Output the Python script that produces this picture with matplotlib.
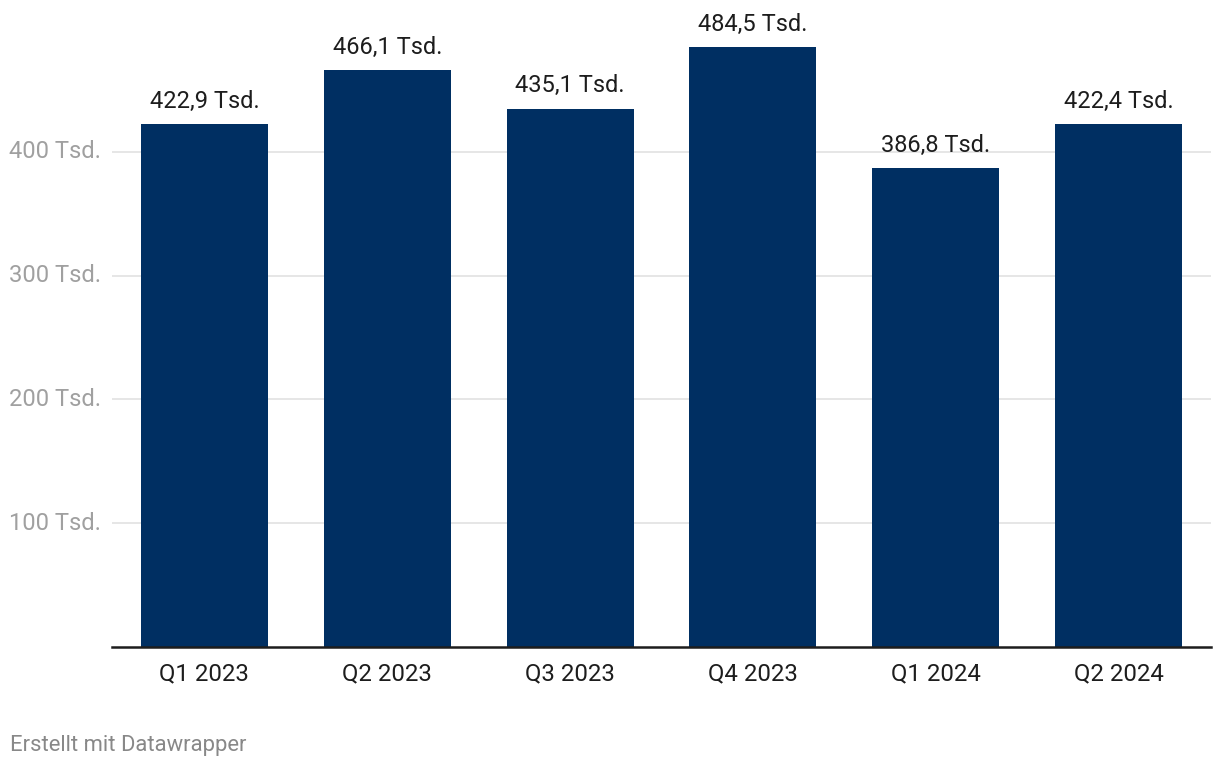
import matplotlib
matplotlib.use("Agg")
import matplotlib.pyplot as plt

categories = ["Q1 2023", "Q2 2023", "Q3 2023", "Q4 2023", "Q1 2024", "Q2 2024"]
values = [422.9, 466.1, 435.1, 484.5, 386.8, 422.4]
yticks = [100, 200, 300, 400]
ytick_labels = ["100 Tsd.", "200 Tsd.", "300 Tsd.", "400 Tsd."]

plt.rcParams['font.family'] = ['Roboto', 'DejaVu Sans']

W, H = 1220, 768
fig = plt.figure(figsize=(W / 100, H / 100), dpi=100)
ax = fig.add_axes([112 / W, (H - 647) / H, (1211 - 112) / W, (647 - 10) / H])

x = list(range(len(categories)))
bars = ax.bar(x, values, width=0.695, color="#002f62", zorder=3)

for xi, v in zip(x, values):
    ax.annotate(f"{v:.1f}".replace(".", ",") + " Tsd.", (xi, v),
                xytext=(0, 8), textcoords="offset points",
                ha="center", va="bottom", fontsize=17, color="#1d1d1d")

ax.set_xlim(-0.505, 5.505)
ax.set_ylim(0, 514.7)
ax.set_yticks(yticks)
ax.set_yticklabels(ytick_labels)
ax.set_xticks(x)
ax.set_xticklabels(categories)

ax.grid(axis="y", color="#e2e2e2", linewidth=1.2, zorder=0)
for s in ["top", "right", "left"]:
    ax.spines[s].set_visible(False)
ax.spines["bottom"].set_color("#1d1d1d")
ax.spines["bottom"].set_linewidth(1.8)
ax.spines["bottom"].set_zorder(4)

ax.tick_params(axis="y", length=0, pad=8, labelsize=17.1, labelcolor="#a0a0a0")
ax.tick_params(axis="x", length=0, pad=11, labelsize=17.3, labelcolor="#1d1d1d")
for lab in ax.get_yticklabels():
    lab.set_verticalalignment("center")

fig.text(10 / W, 1 - 745 / H, "Erstellt mit Datawrapper", fontsize=15.8,
         color="#888888", ha="left", va="center")

fig.savefig("out.png", dpi=100, facecolor="white")
